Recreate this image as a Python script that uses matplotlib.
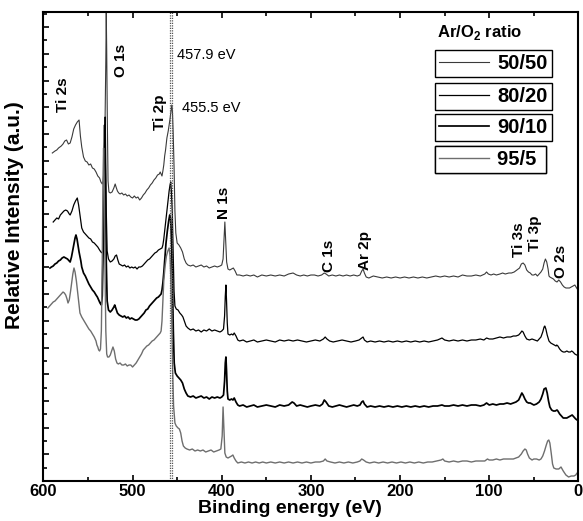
import numpy as np
import matplotlib
matplotlib.use('Agg')
import matplotlib.pyplot as plt
from matplotlib.ticker import MultipleLocator

plt.rcParams['font.family'] = ['Liberation Sans', 'DejaVu Sans']
plt.rcParams['mathtext.fontset'] = 'custom'
plt.rcParams['mathtext.rm'] = 'Liberation Sans'
plt.rcParams['mathtext.bf'] = 'Liberation Sans:bold'

# XPS survey spectra: (binding energy eV, stacked intensity a.u.)
spec_5050 = [
    (590, 328), (587, 330), (585, 331), (583, 333), (580, 335), (578, 337), (576, 340), (574, 341),
    (572, 337), (570, 338), (568, 344), (566, 352), (564, 356), (562, 359), (560, 361), (558.5, 345),
    (557, 334), (555, 324), (553, 320), (551, 319), (549, 316), (547, 317), (545, 313), (543, 312),
    (541, 309), (539, 305), (537, 303), (535.5, 299), (534, 297), (533, 300), (532, 312), (531, 350),
    (530, 420), (529.5, 468), (529, 430), (528.3, 360), (527.5, 300), (526.5, 289), (525, 288),
    (523, 289), (521, 293), (519.5, 297), (518.5, 294), (517, 290), (515.5, 288), (514, 287),
    (512, 288), (510, 286), (508, 287), (506, 285), (504, 286), (502, 284), (500, 283), (498, 285),
    (496, 283), (494, 284), (492, 281), (490, 283), (488, 286), (486, 288), (484, 291), (482, 293),
    (480, 296), (478, 298), (476, 301), (474, 303), (472, 306), (470, 307), (469, 309), (468, 307),
    (467, 305), (466, 310), (465, 316), (464, 325), (463, 331), (461.5, 343), (460, 350), (459, 356),
    (458, 362), (457, 369), (456, 376), (455.3, 370), (454.5, 350), (453.5, 315), (452.5, 270),
    (451.5, 248), (450, 238), (448, 236), (446, 233), (444, 229), (442, 222), (440, 218), (438, 216),
    (435, 215), (432, 216), (429, 214), (426, 215), (423, 216), (420, 214), (417, 215), (414, 213),
    (411, 214), (408, 215), (405, 214), (402, 215), (400, 216), (398.5, 222), (397.5, 240),
    (396.5, 259), (395.5, 240), (394.5, 219), (393, 212), (391, 211), (389, 212), (387, 213),
    (385, 210), (383, 206), (380, 206), (376, 205), (372, 206), (368, 205), (364, 206), (360, 204),
    (355, 206), (350, 205), (345, 206), (340, 205), (335, 206), (330, 205), (325, 207), (320, 208),
    (316, 206), (312, 205), (308, 206), (304, 205), (300, 206), (296, 206), (292, 205), (288, 206),
    (285, 208), (283, 207), (280, 205), (276, 206), (272, 205), (268, 206), (264, 205), (260, 206),
    (256, 205), (252, 206), (248, 205), (245, 206), (243, 210), (241.5, 212), (240, 208), (238, 204),
    (235, 203), (230, 205), (225, 204), (220, 203), (215, 204), (210, 203), (205, 204), (200, 203),
    (195, 204), (190, 203), (185, 204), (180, 203), (175, 204), (170, 203), (165, 204), (160, 205),
    (155, 204), (150, 205), (145, 204), (140, 205), (135, 204), (130, 206), (125, 205), (120, 205),
    (115, 206), (110, 205), (105, 207), (103, 209), (101, 207), (98, 206), (95, 207), (92, 206),
    (88, 207), (85, 208), (82, 207), (78, 208), (75, 208), (72, 209), (69, 211), (66, 213), (64, 217),
    (62, 218), (60, 216), (58, 211), (56, 209), (54, 208), (52, 206), (50, 206), (48, 207), (46, 205),
    (44, 207), (42, 209), (40, 212), (38.5, 218), (37, 222), (35.5, 219), (34, 212), (33, 205),
    (32, 204), (30, 203), (28, 202), (26, 200), (24, 199), (22, 201), (20, 199), (18, 196), (16, 194),
    (14, 193), (12, 193), (10, 193), (8, 194), (6, 195), (4, 196), (2, 193), (0.5, 191),
]

spec_8020 = [
    (589, 259), (587, 261), (585, 263), (583, 262), (581, 266), (579, 268), (577, 270), (575, 271),
    (573, 270), (571, 267), (570, 266), (568, 270), (566, 276), (564, 280), (562, 283), (560.5, 276),
    (559, 266), (557, 253), (555, 249), (553, 247), (551, 245), (549, 243), (547, 242), (545, 239),
    (543, 238), (541, 236), (539, 234), (537, 231), (535.5, 229), (534, 228), (533, 232), (532, 255),
    (531.2, 320), (530.7, 364), (530.2, 330), (529.5, 270), (528.5, 230), (527, 222), (525, 219),
    (523, 220), (521, 222), (519.5, 225), (518, 226), (516.5, 221), (515, 217), (513, 216), (511, 215),
    (509, 216), (507, 214), (505, 215), (503, 213), (501, 214), (499, 213), (497, 214), (495, 212),
    (493, 214), (491, 214), (489, 215), (487, 217), (485, 219), (483, 221), (481, 222), (479, 224),
    (477, 226), (475, 228), (473, 229), (471, 231), (469, 232), (467, 233), (466, 236), (465, 242),
    (464, 250), (462.5, 262), (461, 274), (460, 282), (459, 290), (458, 296), (457.2, 299),
    (456.5, 290), (455.5, 270), (454.5, 230), (453.5, 190), (452.5, 175), (451, 172), (449, 171),
    (447, 168), (445, 166), (443.5, 164), (442, 160), (440, 155), (438, 153), (435, 151), (432, 152),
    (429, 150), (426, 151), (423, 149), (420, 151), (417, 150), (414, 152), (411, 150), (408, 151),
    (405, 150), (402, 149), (400, 150), (398, 152), (396.8, 165), (396, 185), (395.3, 196),
    (394.6, 180), (393.8, 158), (393, 147), (391, 146), (389, 147), (387.4, 146), (386, 148),
    (384, 145), (382, 141), (380, 140), (376, 141), (372, 139), (368, 140), (364, 141), (360, 139),
    (355, 140), (350, 141), (345, 140), (340, 139), (335, 141), (330, 140), (325, 141), (320, 140),
    (315, 141), (310, 140), (305, 139), (300, 140), (295, 141), (290, 140), (286, 142), (284, 144),
    (282, 142), (279, 140), (275, 139), (270, 140), (265, 141), (260, 140), (255, 139), (250, 140),
    (246, 141), (243, 143), (241.5, 144), (240, 141), (237, 139), (233, 140), (228, 139), (223, 140),
    (218, 139), (213, 140), (208, 139), (203, 140), (198, 139), (193, 140), (188, 139), (183, 140),
    (178, 139), (173, 140), (168, 139), (163, 140), (158, 141), (153, 143), (150, 141), (145, 140),
    (140, 141), (135, 140), (130, 141), (125, 140), (120, 141), (115, 141), (110, 142), (106, 141),
    (103, 143), (100, 142), (96, 142), (92, 143), (88, 144), (84, 143), (80, 144), (76, 144),
    (73, 145), (70, 145), (67, 146), (65, 148), (63.4, 150), (62, 149), (60, 145), (58, 142),
    (55, 141), (52, 142), (49, 141), (46, 140), (44, 142), (42, 144), (40, 149), (38.5, 154),
    (37.7, 155), (36.5, 152), (35, 146), (33, 140), (31, 138), (29, 137), (27, 136), (25, 135),
    (24.3, 136), (23, 135), (21, 132), (19, 130), (17, 129), (15, 129), (13, 130), (11, 129), (9, 129),
    (7.5, 130), (6, 129), (4, 127), (2, 126), (0.8, 126),
]

spec_9010 = [
    (592.6, 213), (591, 214), (589, 215), (587, 217), (585, 218), (583, 220), (581, 221), (579, 223),
    (577, 224), (575, 223), (573, 222), (571, 220), (570, 219), (568.5, 224), (567, 231),
    (565.5, 238), (564.5, 243), (563.5, 246), (562.3, 242), (561, 235), (560, 229), (558, 220),
    (557, 214), (555, 208), (553, 205), (551, 201), (549, 197), (547, 194), (545, 191), (543, 189),
    (541, 186), (539.5, 184), (538, 181), (536.5, 178), (535, 176), (534, 185), (533, 230),
    (532, 320), (531.3, 356), (530.5, 300), (529.5, 220), (528.5, 180), (527, 171), (525, 169),
    (523, 171), (521, 174), (520, 176), (518.5, 172), (517, 168), (515, 166), (513, 165), (511, 164),
    (509, 165), (507, 163), (505, 164), (503, 162), (501, 163), (499, 162), (497, 161), (495, 161),
    (493, 162), (491, 164), (489, 166), (487, 168), (485, 171), (483, 172), (481, 175), (479, 177),
    (477, 179), (475, 181), (473, 183), (471, 184), (469, 186), (468, 187), (467, 191), (466, 198),
    (465, 208), (464, 220), (462.5, 238), (461, 250), (459.5, 260), (458.3, 266), (457.3, 262),
    (456.3, 240), (455.3, 200), (454.3, 150), (453.3, 118), (452, 108), (450, 105), (448, 103),
    (446, 101), (444, 98), (442, 92), (440, 88), (438, 85), (435, 84), (432, 85), (429, 83), (426, 84),
    (423, 85), (420, 83), (417, 84), (414, 82), (411, 84), (408, 83), (405, 84), (402, 83), (400, 84),
    (398, 86), (396.8, 100), (396, 118), (395.3, 124), (394.6, 110), (393.8, 90), (393, 82),
    (391, 81), (389, 82), (387.4, 81), (386, 83), (384, 79), (382, 76), (380, 75), (376, 76),
    (372, 74), (368, 75), (364, 76), (360, 74), (355, 75), (350, 76), (345, 75), (340, 74), (335, 76),
    (330, 75), (325, 76), (321, 79), (319, 78), (316, 75), (312, 76), (308, 75), (304, 74), (300, 75),
    (295, 76), (290, 75), (287, 77), (285, 81), (283, 79), (280, 75), (276, 74), (272, 75), (268, 76),
    (264, 75), (260, 74), (256, 75), (252, 76), (248, 75), (245, 76), (243, 79), (241.5, 80),
    (240, 77), (237, 74), (233, 75), (228, 74), (223, 75), (218, 74), (213, 75), (208, 74), (203, 75),
    (198, 74), (193, 75), (188, 74), (183, 75), (178, 74), (173, 75), (168, 74), (163, 75), (158, 75),
    (153, 76), (150, 75), (145, 75), (140, 76), (135, 75), (130, 76), (125, 75), (120, 76), (115, 76),
    (110, 75), (106, 76), (103, 78), (100, 76), (96, 77), (92, 76), (88, 77), (84, 77), (80, 78),
    (76, 77), (73, 78), (70, 79), (67, 81), (65, 85), (63.4, 88), (62, 86), (60, 82), (58, 79),
    (56, 78), (54, 78), (52, 77), (50, 76), (47, 77), (44, 79), (42, 82), (40, 87), (38.5, 92),
    (36.5, 93), (35, 88), (33.5, 80), (32, 74), (30, 71), (28, 70), (26, 70), (24, 71), (23, 70),
    (21, 67), (19, 65), (17, 63), (15, 63), (13, 63), (11, 64), (9, 65), (7, 66), (5, 64), (3, 62),
    (1.5, 61), (0.8, 61),
]

spec_955 = [
    (595, 173), (593, 175), (591, 177), (589, 179), (587, 180), (585, 182), (583, 184), (581, 186),
    (579, 188), (578, 189), (576.5, 188), (575, 186), (573.5, 182), (572.4, 178), (571, 181),
    (569.5, 190), (568, 200), (567, 207), (565.7, 213), (564.5, 209), (563, 200), (561.5, 188),
    (560, 175), (559, 168), (557, 164), (555, 161), (553, 158), (551, 155), (549, 152), (547, 150),
    (545, 147), (543, 144), (541, 140), (540, 136), (539, 134), (538, 131), (537, 130), (536, 132),
    (535, 150), (534, 220), (533.2, 300), (532.5, 333), (531.8, 300), (531, 220), (530, 150),
    (529, 127), (528, 124), (526.5, 124), (525, 126), (523.5, 130), (522, 134), (520.5, 130),
    (519, 122), (517.5, 118), (516, 117), (514, 118), (512, 116), (510, 116), (508, 117), (506, 115),
    (504, 116), (502, 116), (500, 114), (498, 116), (496, 118), (494, 121), (492, 124), (490, 127),
    (488, 131), (486, 133), (484, 135), (482, 136), (480, 138), (478, 140), (476, 141), (474, 143),
    (472, 145), (470, 147), (469, 148), (468, 150), (467, 160), (466, 181), (465, 200), (463.5, 215),
    (462, 225), (460.5, 230), (459, 233), (458, 225), (457, 200), (456, 160), (455, 110), (454, 75),
    (452.5, 58), (451, 55), (449, 53), (447.5, 52), (446, 48), (444.5, 40), (443, 35), (441, 33),
    (439, 32), (436, 31), (433, 32), (430, 30), (427, 31), (424, 30), (421, 31), (418, 29), (415, 30),
    (412, 31), (409, 29), (406, 30), (403, 31), (401, 32), (399.5, 45), (398.5, 74), (397.5, 50),
    (396.5, 28), (395, 24), (393, 23), (391, 24), (389, 25), (387.5, 26), (386, 23), (384, 20),
    (382, 18), (378, 19), (374, 18), (370, 19), (366, 18), (362, 19), (358, 18), (354, 19), (350, 18),
    (345, 19), (340, 18), (335, 19), (330, 18), (325, 19), (320, 18), (315, 19), (310, 18), (305, 19),
    (300, 18), (295, 19), (290, 19), (286, 20), (284, 22), (282, 20), (278, 19), (273, 18), (268, 19),
    (263, 18), (258, 19), (253, 18), (248, 19), (245, 20), (243, 22), (241, 21), (238, 19), (234, 18),
    (229, 19), (224, 18), (219, 19), (214, 18), (209, 19), (204, 18), (199, 19), (194, 18), (189, 19),
    (184, 18), (179, 19), (174, 18), (169, 19), (164, 19), (159, 20), (154, 21), (152, 22), (150, 20),
    (145, 19), (140, 20), (135, 19), (130, 20), (125, 20), (120, 19), (115, 20), (110, 20), (105, 20),
    (102, 22), (100, 21), (96, 21), (92, 22), (88, 21), (84, 22), (80, 22), (76, 22), (73, 22),
    (70, 23), (67, 24), (64, 27), (62, 30), (60, 32), (58.5, 31), (57, 27), (55, 23), (52, 21),
    (50, 22), (47, 22), (44, 21), (42, 22), (40, 25), (38, 30), (36, 36), (34.5, 40), (33.2, 41),
    (32, 38), (30.5, 28), (29, 17), (27.6, 13), (25, 12), (22, 12), (19.5, 14), (17, 10), (14, 6),
    (11, 4), (8, 5), (5, 5), (3, 6), (1.5, 8), (0.8, 8),
]

spectra = [spec_5050, spec_8020, spec_9010, spec_955]
ratios = ['50/50', '80/20', '90/10', '95/5 ']
line_colors = ['#3a3a3a', 'black', 'black', '#6e6e6e']
line_widths = [0.8, 0.9, 1.25, 1.0]

# peak assignments: (label, energy, height)
peak_labels = [
    ('Ti 2s', 578, 386), ('O 1s', 513, 421), ('Ti 2p', 469.3, 369), ('N 1s', 397.5, 278),
    ('C 1s', 280, 225), ('Ar 2p', 239, 231), ('Ti 3s', 66.9, 241), ('Ti 3p', 49, 248),
    ('O 2s', 19.8, 220),
]
ti2p_positions = [457.9, 455.5]
ti2p_text_pos = [(450.2, 426), (444.6, 373)]

fig = plt.figure(figsize=(5.83, 5.21), dpi=100)
ax = fig.add_axes([43.4 / 583, 40 / 521, 535 / 583, 469 / 521])

handles = []
for spec, color, lw in zip(spectra, line_colors, line_widths):
    arr = np.array(spec)
    h, = ax.plot(arr[:, 0], arr[:, 1], color=color, lw=lw)
    handles.append(h)

for e in ti2p_positions:
    ax.axvline(e, color='#555555', lw=0.9, ls=(0, (1, 1)))
for e, (tx, ty) in zip(ti2p_positions, ti2p_text_pos):
    ax.text(tx, ty, f'{e} eV', fontsize=10.5, ha='left', va='center')

for name, x, y in peak_labels:
    ax.text(x, y, name, rotation=90, fontsize=11, fontweight='bold', ha='center', va='center')

ax.set_xlim(600, 0)
ax.set_ylim(0, 469)
ax.xaxis.set_major_locator(MultipleLocator(100))
ax.xaxis.set_minor_locator(MultipleLocator(50))
ax.yaxis.set_major_locator(MultipleLocator(26.7))
ax.yaxis.set_minor_locator(MultipleLocator(13.35))
ax.tick_params(which='both', direction='in', top=True, right=False, width=1.2)
ax.tick_params(which='major', length=4.5)
ax.tick_params(which='minor', length=3)
ax.tick_params(axis='x', labelsize=12, pad=2.5)
ax.tick_params(axis='y', labelleft=False)
for lbl in ax.get_xticklabels():
    lbl.set_fontweight('bold')
for s in ax.spines.values():
    s.set_linewidth(1.5)

ax.set_xlabel('Binding energy (eV)', fontsize=14, fontweight='bold')
ax.xaxis.set_label_coords(0.461, -0.04)
ax.set_ylabel('Relative Intensity (a.u.)', fontsize=15, fontweight='bold')
ax.yaxis.set_label_coords(-0.036, 0.567)

ax.text(0.736, 0.957, r'Ar/O$_\mathbf{2}$ ratio', transform=ax.transAxes,
        fontsize=12, fontweight='bold', va='center', ha='left')
box_tops = [0.919, 0.849, 0.7825, 0.714]
for h, lab, top in zip(handles, ratios, box_tops):
    leg = ax.legend([h], [lab], loc='upper left', bbox_to_anchor=(0.732, top),
                    borderaxespad=0, borderpad=0.2, handlelength=2.5, handletextpad=0.4,
                    fancybox=False, framealpha=1, edgecolor='black',
                    prop={'weight': 'bold', 'size': 14.5})
    leg.get_frame().set_linewidth(1.0)
    ax.add_artist(leg)

fig.savefig('out.png', dpi=100)
